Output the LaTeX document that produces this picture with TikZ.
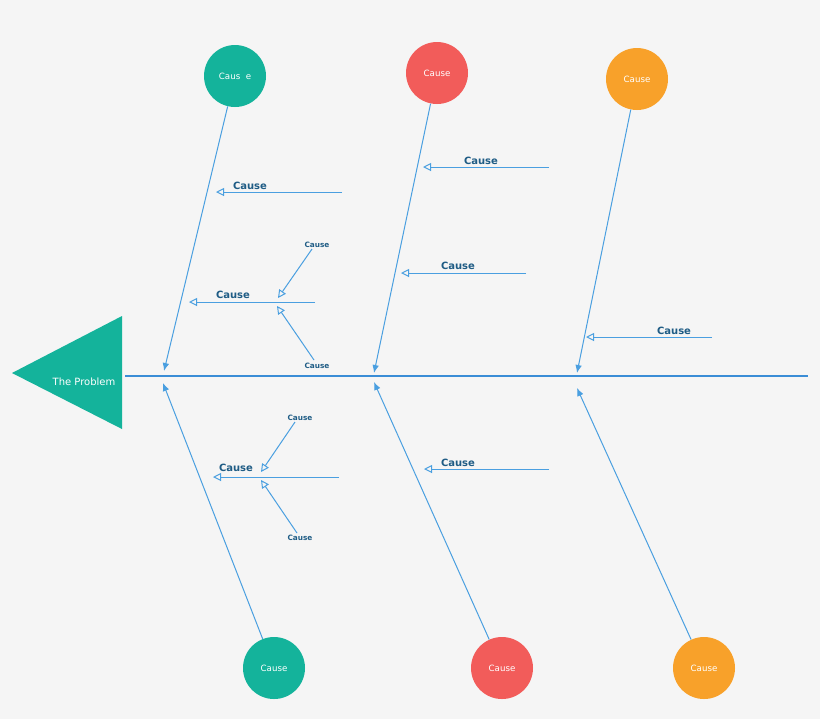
\documentclass[tikz,border=0pt]{standalone}
\usepackage{fontspec}
\setmainfont{DejaVu Sans}
\usetikzlibrary{arrows.meta}
\definecolor{bg}{HTML}{F5F5F5}
\definecolor{teal}{HTML}{14B39B}
\definecolor{red}{HTML}{F25C5A}
\definecolor{orng}{HTML}{F8A12A}
\definecolor{ln}{HTML}{4A9FE0}
\definecolor{spine}{HTML}{3A8DD6}
\definecolor{txt}{HTML}{1F5C85}
\tikzset{
 x=0.75pt,y=-0.75pt,
 circ/.style={circle,minimum size=46.5pt,inner sep=0,text=white,font=\fontsize{6.5}{7}\selectfont},
 bone/.style={ln,line width=0.75pt,-{Latex[length=6pt,width=5pt]}},
 sub/.style={ln,line width=0.75pt,-{Triangle[open,length=6pt,width=6pt]}},
 lab/.style={text=txt,font=\bfseries\fontsize{7.5}{8}\selectfont,inner sep=0},
 slab/.style={text=txt,font=\bfseries\fontsize{5.5}{6}\selectfont,inner sep=0}
}
\begin{document}
\begin{tikzpicture}
\fill[bg] (0,0) rectangle (820,719);
\useasboundingbox (0,0) rectangle (820,719);
\fill[teal] (12,373) -- (122,316) -- (122,429) -- cycle;
\node[text=white,font=\fontsize{7.5}{8}\selectfont] (prob) at (84,382) {The Problem};
\coordinate (s0) at (125,376); \coordinate (s1) at (808,376);
\draw[spine,line width=2.2pt] (s0) -- (s1);
\node[circ,fill=teal] (t1) at (235,76) {Caus\ \ e};
\node[circ,fill=red] (t2) at (437,73) {Cause};
\node[circ,fill=orng] (t3) at (637,79) {Cause};
\node[circ,fill=teal] (b1) at (274,668) {Cause};
\node[circ,fill=red] (b2) at (502,668) {Cause};
\node[circ,fill=orng] (b3) at (704,668) {Cause};
\coordinate (e1) at (164,371); \coordinate (e2) at (374,373); \coordinate (e3) at (577,373);
\coordinate (f1) at (163,383); \coordinate (f2) at (374,382); \coordinate (f3) at (577,388);
\draw[bone] (t1) -- (e1); \draw[bone] (t2) -- (e2); \draw[bone] (t3) -- (e3);
\draw[bone] (b1) -- (f1); \draw[bone] (b2) -- (f2); \draw[bone] (b3) -- (f3);
% sub causes
\coordinate (a0) at (342,192); \coordinate (a1) at (216,192); \draw[sub] (a0) -- (a1);
\node[lab] (la) at (250,186) {Cause};
\coordinate (c0) at (315,302); \coordinate (c1) at (189,302); \draw[sub] (c0) -- (c1);
\node[lab] (lc) at (233,295) {Cause};
\node[slab] (lc1) at (317,245) {Cause}; \coordinate (c2) at (278,298); \draw[sub] (312,249) -- (c2);
\node[slab] (lc2) at (317,366) {Cause}; \coordinate (c3) at (277,306); \draw[sub] (314,360) -- (c3);
\coordinate (d0) at (549,167); \coordinate (d1) at (423,167); \draw[sub] (d0) -- (d1);
\node[lab] (ld) at (481,161) {Cause};
\coordinate (g0) at (526,273); \coordinate (g1) at (401,273); \draw[sub] (g0) -- (g1);
\node[lab] (lg) at (458,266) {Cause};
\coordinate (h0) at (712,337); \coordinate (h1) at (586,337); \draw[sub] (h0) -- (h1);
\node[lab] (lh) at (674,331) {Cause};
\coordinate (k0) at (339,477); \coordinate (k1) at (213,477); \draw[sub] (k0) -- (k1);
\node[lab] (lk) at (236,468) {Cause};
\node[slab] (lk1) at (300,418) {Cause}; \coordinate (k2) at (261,472); \draw[sub] (295,422) -- (k2);
\node[slab] (lk2) at (300,538) {Cause}; \coordinate (k3) at (261,480); \draw[sub] (297,533) -- (k3);
\coordinate (m0) at (549,469); \coordinate (m1) at (424,469); \draw[sub] (m0) -- (m1);
\node[lab] (lm) at (458,463) {Cause};
\end{tikzpicture}
\end{document}
